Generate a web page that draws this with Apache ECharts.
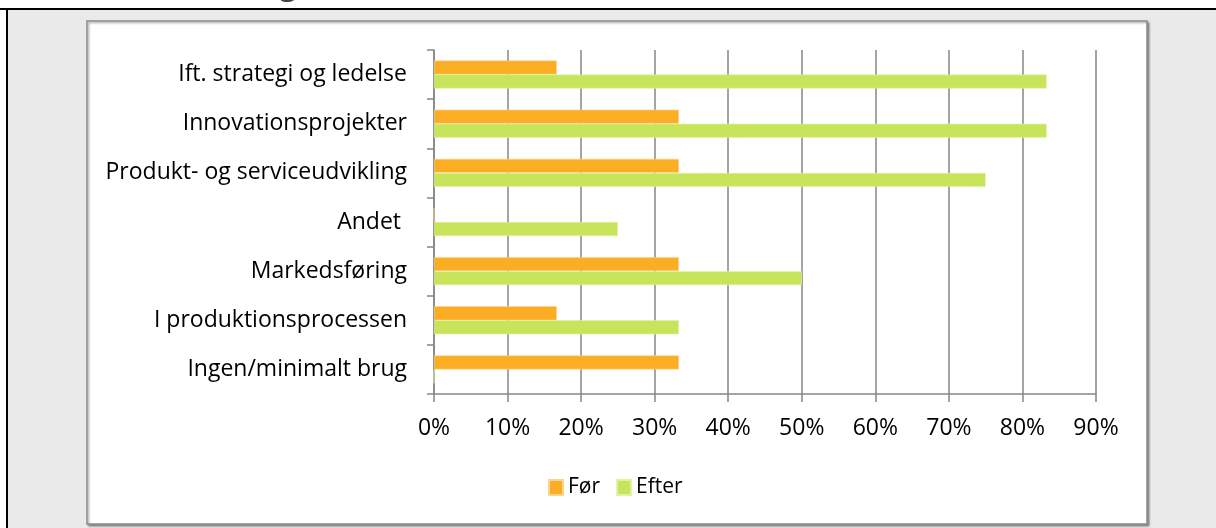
<!DOCTYPE html>
<html>
<head>
<meta charset="UTF-8">
<title>Før / Efter</title>
<script src="https://cdn.jsdelivr.net/npm/echarts@6/dist/echarts.min.js"></script>
<style>
  html, body { margin: 0; padding: 0; background: #fff; }
  #main { width: 1216px; height: 528px; }
</style>
</head>
<body>
<div id="main"></div>
<script>
// kategorier, oppefra og ned
var categories = ['Ift. strategi og ledelse', 'Innovationsprojekter', 'Produkt- og serviceudvikling',
  'Andet ', 'Markedsføring', 'I produktionsprocessen', 'Ingen/minimalt brug'];
var forData = [16.7, 33.3, 33.3, 0, 33.3, 16.7, 33.3];
var efterData = [83.3, 83.3, 75, 25, 50, 33.3, 0];
var seriesNames = ['Før', 'Efter'];

var font = 'Open Sans';
var fs = 23;
var gridColor = '#868686';

var chart = echarts.init(document.getElementById('main'));
var option = {
  backgroundColor: '#eaeaea',
  animation: false,
  textStyle: { fontFamily: font },
  graphic: [
    // hvid stribe og sort kant foroven/venstre
    { type: 'rect', z: -20, shape: { x: 0, y: 0, width: 1216, height: 9 }, style: { fill: '#fff' } },
    { type: 'rect', z: -20, shape: { x: 0, y: 0, width: 7, height: 528 }, style: { fill: '#fff' } },
    { type: 'rect', z: -19, shape: { x: 0, y: 8, width: 1216, height: 2 }, style: { fill: '#000' } },
    { type: 'rect', z: -19, shape: { x: 6, y: 8, width: 2, height: 520 }, style: { fill: '#000' } },
    { type: 'text', z: -18, x: 288, y: -14, style: { text: 'g', fontSize: 30, fontWeight: 'bold', fontFamily: font, fill: '#404040', align: 'center', verticalAlign: 'middle' } },
    // diagramramme
    { type: 'rect', z: -10, shape: { x: 87, y: 21, width: 1060, height: 503 },
      style: { fill: '#fff', stroke: '#8c8c8c', lineWidth: 1.5, shadowBlur: 2, shadowOffsetX: 1.5, shadowOffsetY: 1.5, shadowColor: 'rgba(0,0,0,0.35)' } }
  ],
  grid: { left: 434, right: 120, top: 50, bottom: 134, containLabel: false },
  legend: {
    data: seriesNames,
    left: 548, top: 477, padding: 0,
    itemWidth: 14, itemHeight: 15, itemGap: 16,
    icon: 'rect',
    textStyle: { fontSize: 21, color: '#000', fontFamily: font }
  },
  xAxis: {
    type: 'value',
    min: 0, max: 90, interval: 10,
    axisLine: { show: true, lineStyle: { color: gridColor, width: 1.5 } },
    axisTick: { show: true, length: 8, lineStyle: { color: gridColor, width: 1.5 } },
    splitLine: { show: true, lineStyle: { color: gridColor, width: 1.5 } },
    axisLabel: { formatter: '{value}%', fontSize: fs, color: '#000', margin: 23, fontFamily: font }
  },
  yAxis: {
    type: 'category',
    inverse: true,
    data: categories,
    axisLine: { show: true, lineStyle: { color: gridColor, width: 1.5 } },
    axisTick: { show: true, length: 7, lineStyle: { color: gridColor, width: 1.5 } },
    axisLabel: { fontSize: fs, color: '#000', margin: 27, fontFamily: font }
  },
  series: [
    {
      name: seriesNames[0], type: 'bar', data: forData,
      barWidth: 14, barGap: '0%',
      itemStyle: { color: '#fbae24', borderColor: '#fdd390', borderWidth: 0.6 }
    },
    {
      name: seriesNames[1], type: 'bar', data: efterData,
      barWidth: 14, barGap: '0%',
      itemStyle: { color: '#c8e45a', borderColor: '#e2f1a8', borderWidth: 0.6 }
    }
  ]
};
chart.setOption(option);
</script>
</body>
</html>
